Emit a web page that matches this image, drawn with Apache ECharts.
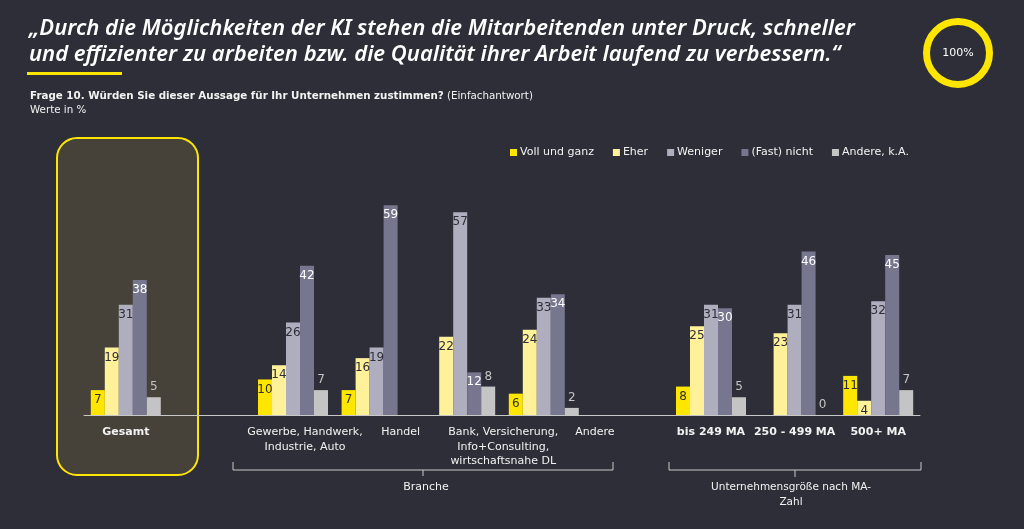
<!DOCTYPE html>
<html>
<head>
<meta charset="utf-8">
<script src="https://cdn.jsdelivr.net/npm/echarts@6/dist/echarts.min.js"></script>
<style>
html,body{margin:0;padding:0;background:#2e2e38;}
#chart{width:1024px;height:529px;}
</style>
</head>
<body>
<div id="chart"></div>
<script>
// ---- data ----
const categories = ['Gesamt', ' ', 'Gewerbe, Handwerk,\nIndustrie, Auto', 'Handel', 'Bank, Versicherung,\nInfo+Consulting,\nwirtschaftsnahe DL', 'Andere', '  ', 'bis 249 MA', '250 - 499 MA', '500+ MA'];
const seriesNames = ['Voll und ganz', 'Eher', 'Weniger', '(Fast) nicht', 'Andere, k.A.'];
const vollUndGanz = [7, null, 10, 7, null, 6, null, 8, null, 11];
const eher        = [19, null, 14, 16, 22, 24, null, 25, 23, 4];
const weniger     = [31, null, 26, 19, 57, 33, null, 31, 31, 32];
const fastNicht   = [38, null, 42, 59, 12, 34, null, 30, 46, 45];
const andereKA    = [5, null, 7, null, 8, 2, null, 5, 0, 7];
const groupBranche = 'Branche';
const groupGroesse = 'Unternehmensgröße nach MA-\nZahl';
const titleText = '„Durch die Möglichkeiten der KI stehen die Mitarbeitenden unter Druck, schneller\nund effizienter zu arbeiten bzw. die Qualität ihrer Arbeit laufend zu verbessern.“';
const questionText = 'Frage 10. Würden Sie dieser Aussage für Ihr Unternehmen zustimmen?';
const questionNote = ' (Einfachantwort)';
const unitText = 'Werte in %';
const baseText = '100%';

// ---- styles ----
const TFONT = '"Noto Sans", "Open Sans", sans-serif';
const FONT = '"DejaVu Sans", "Open Sans", sans-serif';
const colors = ['#ffe600', '#fff09a', '#afaebf', '#76768f', '#c4c4c4'];
const labelColors = ['#2e2e38', '#2e2e38', '#2e2e38', '#ffffff', '#c4c4c4'];
const boldIdx = {0: true, 7: true, 8: true, 9: true};
const shiftIdx = {2: 12, 3: 24, 4: 43, 5: 51};

const seriesData = [vollUndGanz, eher, weniger, fastNicht, andereKA];

const rich = {};
[0, 12, 24, 43, 51].forEach(s => {
  rich['n' + s] = {fontFamily: FONT, fontSize: 11, color: '#f2f2f2', fontWeight: 'normal', lineHeight: 14.5, padding: [0, 0, 0, 2 * s]};
  rich['b' + s] = {fontFamily: FONT, fontSize: 11, color: '#f2f2f2', fontWeight: 'bold', lineHeight: 14.5, padding: [0, 0, 0, 2 * s]};
});

const chart = echarts.init(document.getElementById('chart'));
chart.setOption({
  backgroundColor: '#2e2e38',
  animation: false,
  title: [
    {text: titleText, left: 24, top: 11,
     textStyle: {fontFamily: TFONT, fontSize: 22, fontStyle: 'italic', fontWeight: 600, color: '#ffffff', lineHeight: 26}},
    {text: '{q|' + questionText + '}{r|' + questionNote + '}\n{r|' + unitText + '}', left: 25, top: 84,
     textStyle: {rich: {
       q: {fontFamily: FONT, fontSize: 10.3, fontWeight: 'bold', color: '#f2f2f2', lineHeight: 14},
       r: {fontFamily: FONT, fontSize: 10.3, fontWeight: 'normal', color: '#f2f2f2', lineHeight: 14}
     }}}
  ],
  legend: {
    data: seriesNames, left: 505, top: 142, icon: 'rect', itemWidth: 7, itemHeight: 7, itemGap: 19,
    textStyle: {fontFamily: FONT, fontSize: 11, color: '#f2f2f2', padding: [0, 0, 0, -2]}
  },
  grid: {left: 84, right: 104, top: 201.7, bottom: 114},
  xAxis: {
    type: 'category', data: categories,
    axisLine: {lineStyle: {color: '#c8c8c8', width: 1}},
    axisTick: {show: false},
    axisLabel: {
      interval: 0, margin: 10,
      formatter: function (value, index) {
        const s = shiftIdx[index] || 0;
        const w = boldIdx[index] ? 'b' : 'n';
        return value.split('\n').map(l => '{' + w + s + '|' + l + '}').join('\n');
      },
      rich: rich
    }
  },
  yAxis: {type: 'value', min: 0, max: 60, show: false, splitLine: {show: false}},
  series: seriesNames.map((name, i) => ({
    name: name, type: 'bar', data: seriesData[i], barWidth: 14, barGap: '0%',
    itemStyle: {color: colors[i]},
    label: {
      show: true, position: i === 4 ? 'top' : 'insideTop', distance: 4,
      color: labelColors[i], fontFamily: FONT, fontSize: 12,
      formatter: p => (p.value === null || p.value === undefined) ? '' : String(p.value)
    }
  })),
  graphic: [
    {type: 'rect', z: -10, shape: {x: 57, y: 138, width: 141, height: 337, r: 20},
     style: {fill: '#46423a', stroke: '#ffe600', lineWidth: 2}},
    {type: 'rect', shape: {x: 27, y: 72, width: 95, height: 3}, style: {fill: '#ffe600'}},
    {type: 'circle', shape: {cx: 958, cy: 53, r: 31.5}, style: {fill: 'none', stroke: '#ffe600', lineWidth: 7}},
    {type: 'text', x: 958, y: 53, style: {text: baseText, x: 0, y: 0, align: 'center', verticalAlign: 'middle', fill: '#ffffff', font: '11px ' + FONT}},
    {type: 'polyline', shape: {points: [[233, 462], [233, 470], [613, 470], [613, 462]]}, style: {stroke: '#c8c8c8', lineWidth: 1, fill: 'none'}},
    {type: 'polyline', shape: {points: [[423, 470], [423, 476]]}, style: {stroke: '#c8c8c8', lineWidth: 1}},
    {type: 'text', x: 426, y: 487, style: {text: groupBranche, align: 'center', verticalAlign: 'middle', fill: '#f2f2f2', font: '11px ' + FONT}},
    {type: 'polyline', shape: {points: [[669, 462], [669, 470], [921, 470], [921, 462]]}, style: {stroke: '#c8c8c8', lineWidth: 1, fill: 'none'}},
    {type: 'polyline', shape: {points: [[795, 470], [795, 477]]}, style: {stroke: '#c8c8c8', lineWidth: 1}},
    {type: 'text', x: 791, y: 495, style: {text: groupGroesse, align: 'center', verticalAlign: 'middle', fill: '#f2f2f2', font: '10.5px ' + FONT, lineHeight: 15}}
  ]
});
</script>
</body>
</html>
